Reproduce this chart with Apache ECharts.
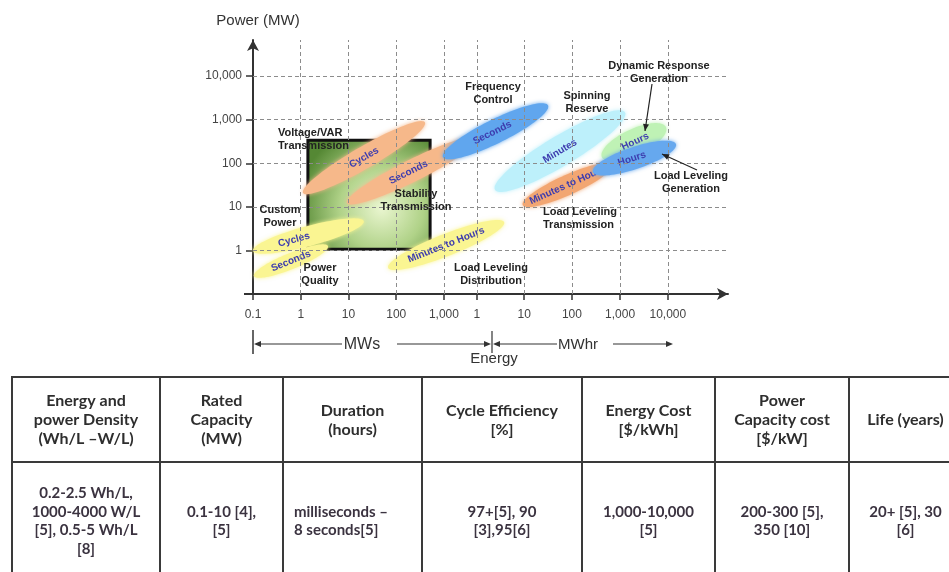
<!DOCTYPE html>
<html><head><meta charset="utf-8">
<script src="https://cdn.jsdelivr.net/npm/echarts@6/dist/echarts.min.js"></script>
<style>html,body{margin:0;padding:0;background:#fff}#c{width:949px;height:572px}</style>
</head><body><div id="c"></div>
<script>
// ---------- DATA ----------
// x axis: position units (one unit = one decade of MWs); y axis: log10(MW)
const xTickPos = [0, 1, 2, 3, 4, 4.69, 5.68, 6.68, 7.69, 8.69];
const xTickLabels = ['0.1', '1', '10', '100', '1,000', '1', '10', '100', '1,000', '10,000'];
const yTickPos = [0, 1, 2, 3, 4];
const yTickLabels = ['1', '10', '100', '1,000', '10,000'];

const ellipseNames = ['Cycles', 'Seconds', 'Minutes to Hours', 'Cycles', 'Seconds', 'Seconds', 'Minutes', 'Minutes to Hours', 'Hours', 'Hours'];
const ellipseStart = [[0.0, -0.01], [0.02, -0.59], [2.83, -0.40], [1.05, 1.32], [1.97, 1.09], [3.98, 2.14], [5.07, 1.39], [5.65, 1.04], [7.31, 2.14], [7.12, 1.80]];
const ellipseEnd   = [[2.32, 0.67], [1.57, 0.10], [5.26, 0.65], [3.60, 2.94], [4.71, 2.58], [6.18, 3.33], [7.79, 3.17], [7.52, 1.96], [8.65, 2.83], [8.86, 2.44]];

const boxX = [1.15, 3.71];
const boxY = [0.03, 2.53];

const tableHeaders = ['Energy and\npower Density\n(Wh/L \u2013W/L)', 'Rated\nCapacity\n(MW)', 'Duration\n(hours)', 'Cycle Efficiency\n[%]', 'Energy Cost\n[$/kWh]', 'Power\nCapacity cost\n[$/kW]', 'Life (years)'];
const tableValues = ['0.2-2.5 Wh/L,\n1000-4000 W/L\n[5], 0.5-5 Wh/L\n[8]', '0.1-10 [4],\n[5]', 'milliseconds \u2013\n8 seconds[5]', '97+[5], 90\n[3],95[6]', '1,000-10,000\n[5]', '200-300 [5],\n350 [10]', '20+ [5], 30\n[6]'];

// ---------- STYLES ----------
const ellipseStyle = [
  {color: '#faf592', half: 10, at: 0.37},
  {color: '#faf592', half: 8, at: 0.5},
  {color: '#faf592', half: 11, at: 0.5},
  {color: '#f6b88a', half: 11, at: 0.5},
  {color: '#f6b88a', half: 11, at: 0.47},
  {color: '#60a6ee', half: 12, at: 0.47},
  {color: '#bdf0fb', half: 15, at: 0.5},
  {color: '#f2a672', half: 10, at: 0.5},
  {color: '#bff2b5', half: 13, at: 0.52},
  {color: '#66a8ee', half: 11, at: 0.47}
];
const FONT = "'Liberation Sans', Arial, sans-serif";

const chart = echarts.init(document.getElementById('c'), null, {renderer: 'canvas'});

function ellipseItem(params, api) {
  const i = params.dataIndex;
  const st = ellipseStyle[i];
  const p1 = api.coord([api.value(0), api.value(1)]);
  const p2 = api.coord([api.value(2), api.value(3)]);
  const cx = (p1[0] + p2[0]) / 2, cy = (p1[1] + p2[1]) / 2;
  const dx = p2[0] - p1[0], dy = p2[1] - p1[1];
  const a = Math.hypot(dx, dy) / 2, b = st.half;
  const ang = Math.atan2(dy, dx);
  const ca = Math.cos(ang), sa = Math.sin(ang);
  const pts = [];
  for (let k = 0; k < 90; k++) {
    const t = 2 * Math.PI * k / 90;
    const ex = a * Math.cos(t), ey = b * Math.sin(t);
    pts.push([cx + ex * ca - ey * sa, cy + ex * sa + ey * ca]);
  }
  const lx = p1[0] + dx * st.at, ly = p1[1] + dy * st.at;
  return {
    type: 'group',
    children: [
      {type: 'polygon', shape: {points: pts}, style: {fill: st.color, shadowBlur: 4, shadowColor: st.color}},
      {type: 'text', x: lx, y: ly, rotation: -ang,
        style: {text: ellipseNames[i], fill: '#3d3cae', font: 'bold 10px ' + FONT,
          textAlign: 'center', textVerticalAlign: 'middle', align: 'center', verticalAlign: 'middle'}}
    ]
  };
}

function boxItem(params, api) {
  const p1 = api.coord([api.value(0), api.value(1)]);
  const p2 = api.coord([api.value(2), api.value(3)]);
  return {
    type: 'rect',
    shape: {x: Math.min(p1[0], p2[0]), y: Math.min(p1[1], p2[1]), width: Math.abs(p2[0] - p1[0]), height: Math.abs(p2[1] - p1[1])},
    style: {
      fill: new echarts.graphic.RadialGradient(0.6, 0.62, 0.75, [
        {offset: 0, color: '#eaf6d0'},
        {offset: 0.5, color: '#b0d288'},
        {offset: 1, color: '#558834'}
      ]),
      stroke: '#111', lineWidth: 3
    }
  };
}

// ---------- GRAPHIC (annotations, bottom scale, table) ----------
const g = [];
function txt(text, x, y, font, fill, align, lh, z) {
  g.push({type: 'text', x: x, y: y, z: z || 100, silent: true,
    style: {text: text, font: font, fill: fill, textAlign: align || 'center', align: align || 'center',
      textVerticalAlign: 'middle', verticalAlign: 'middle', lineHeight: lh || 13}});
}
function line(x1, y1, x2, y2, w, c) {
  g.push({type: 'line', z: 100, silent: true, shape: {x1: x1, y1: y1, x2: x2, y2: y2}, style: {stroke: c || '#333', lineWidth: w || 1}});
}
function head(x, y, ang, len, wid, c) {
  const ca = Math.cos(ang), sa = Math.sin(ang);
  const bx = x - len * ca, by = y - len * sa;
  g.push({type: 'polygon', z: 100, silent: true, shape: {points: [[x, y], [bx - wid * sa, by + wid * ca], [bx + wid * sa, by - wid * ca]]}, style: {fill: c || '#333'}});
}
function arrow(x1, y1, x2, y2, c) {
  line(x1, y1, x2, y2, 1.2, c);
  head(x2, y2, Math.atan2(y2 - y1, x2 - x1), 7, 3, c);
}

const AF = 'bold 11px ' + FONT, AC = '#222';
txt('Power (MW)', 258, 21, '15px ' + FONT, '#333');
txt('Voltage/VAR\nTransmission', 278, 139, AF, AC, 'left');
txt('Frequency\nControl', 493, 93, AF, AC);
txt('Spinning\nReserve', 587, 102, AF, AC);
txt('Dynamic Response\nGeneration', 659, 72, AF, AC);
txt('Load Leveling\nGeneration', 691, 182, AF, AC);
txt('Load Leveling\nTransmission', 543, 218, AF, AC, 'left');
txt('Load Leveling\nDistribution', 491, 274, AF, AC);
txt('Custom\nPower', 280, 216, AF, AC);
txt('Power\nQuality', 320, 274, AF, AC);
txt('Stability\nTransmission', 416, 200, AF, AC);
arrow(652, 84, 645, 131, '#222');
arrow(697, 170, 662, 154, '#222');

// short extension of the x axis line left of the origin
line(244, 294, 253, 294, 2, '#333');

// bottom MWs / Energy / MWhr scale
line(253, 330, 253, 354, 1.5);
line(256, 344, 342, 344, 1.2); head(254, 344, Math.PI, 7, 3);
txt('MWs', 362, 345, '16px ' + FONT, '#333');
line(397, 344, 484, 344, 1.2); head(491, 344, 0, 7, 3);
line(492, 331, 492, 353, 1.2);
line(500, 344, 557, 344, 1.2); head(493, 344, Math.PI, 7, 3);
txt('MWhr', 578, 345, '15px ' + FONT, '#333');
line(613, 344, 667, 344, 1.2); head(673, 344, 0, 7, 3);
txt('Energy', 494, 359, '15px ' + FONT, '#333');

// table
const colX = [12, 160, 283, 422, 582, 715, 849, 962];
const tTop = 377, tMid = 462, tBot = 580;
const TC = '#3a3a3a';
line(colX[0] - 1, tTop, 949, tTop, 2, TC);
line(colX[0] - 1, tMid, 949, tMid, 2, TC);
for (let i = 0; i < colX.length - 1; i++) line(colX[i], tTop, colX[i], tBot, 2, TC);
const HF = "bold 16px Lato, 'Open Sans', sans-serif";
const DF = "bold 15px Lato, 'Open Sans', sans-serif";
for (let i = 0; i < tableHeaders.length; i++) {
  const cxm = (colX[i] + colX[i + 1]) / 2;
  txt(tableHeaders[i], cxm, 420, HF, '#2e2e2e', 'center', 19);
  if (i === 2) txt(tableValues[i], 294, 521, DF, '#3b3340', 'left', 18.5);
  else txt(tableValues[i], cxm, 521, DF, '#3b3340', 'center', 18.5);
}

function xLabel(v) {
  for (let i = 0; i < xTickPos.length; i++) if (Math.abs(xTickPos[i] - v) < 1e-6) return xTickLabels[i];
  return '';
}
function yLabel(v) {
  for (let i = 0; i < yTickPos.length; i++) if (Math.abs(yTickPos[i] - v) < 1e-6) return yTickLabels[i];
  return '';
}

const option = {
  backgroundColor: '#fff',
  animation: false,
  grid: {left: 253, top: 40, width: 475, height: 254, containLabel: false},
  xAxis: {
    type: 'value', min: 0, max: 9.95,
    axisLine: {show: true, onZero: false, symbol: ['none', 'arrow'], symbolSize: [9, 11], lineStyle: {color: '#333', width: 2}},
    axisTick: {show: true, customValues: xTickPos, length: 6, lineStyle: {color: '#333', width: 1.5}},
    axisLabel: {customValues: xTickPos, formatter: xLabel, margin: 15, color: '#444', fontSize: 12, fontFamily: FONT},
    splitLine: {show: false}
  },
  yAxis: {
    type: 'value', min: -1, max: 4.83,
    axisLine: {show: true, onZero: false, symbol: ['none', 'arrow'], symbolSize: [9, 11], lineStyle: {color: '#333', width: 2}},
    axisTick: {show: true, customValues: yTickPos, length: 7, lineStyle: {color: '#333', width: 1.5}},
    axisLabel: {customValues: yTickPos, formatter: yLabel, margin: 11, color: '#444', fontSize: 12, fontFamily: FONT},
    splitLine: {show: false}
  },
  series: [
    {type: 'custom', name: 'box', z: 1, renderItem: boxItem, data: [[boxX[0], boxY[0], boxX[1], boxY[1]]], encode: {x: [0, 2], y: [1, 3]}, silent: true},
    {type: 'custom', name: 'ellipses', z: 2, renderItem: ellipseItem,
      data: ellipseStart.map((s, i) => [s[0], s[1], ellipseEnd[i][0], ellipseEnd[i][1]]), encode: {x: [0, 2], y: [1, 3]}, silent: true},
    {type: 'line', name: 'grid', z: 5, data: [], silent: true,
      markLine: {silent: true, symbol: ['none', 'none'], label: {show: false}, animation: false,
        lineStyle: {type: [4, 3], color: '#8c8c8c', width: 1},
        data: xTickPos.slice(1).map(v => ({xAxis: v})).concat(yTickPos.map(v => ({yAxis: v})))}}
  ],
  graphic: {elements: g}
};
chart.setOption(option);
</script></body></html>
